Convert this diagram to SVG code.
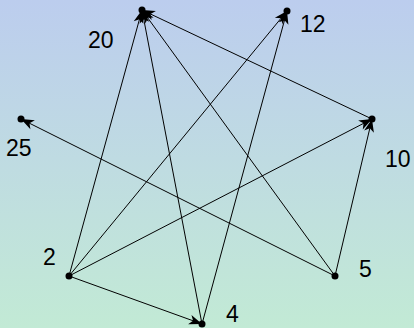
<svg xmlns="http://www.w3.org/2000/svg" width="414" height="328" viewBox="0 0 414 328">
<defs>
<linearGradient id="bg" x1="0" y1="0" x2="0" y2="1">
<stop offset="0" stop-color="#bccdee"/>
<stop offset="1" stop-color="#c2ead5"/>
</linearGradient>
<marker id="ah" viewBox="-14 -6 15 12" refX="0" refY="0" markerWidth="15" markerHeight="12" markerUnits="userSpaceOnUse" orient="auto">
<path d="M0,0 L-13,-5 L-9.5,0 L-13,5 Z" fill="#000"/>
</marker>
<style>
.e{stroke:#000;stroke-width:1;fill:none;marker-end:url(#ah)}
.d{fill:#000}
.t{font-family:"Liberation Sans",Arial,sans-serif;font-size:23px;fill:#000}
</style>
</defs>
<rect width="414" height="328" fill="url(#bg)"/>
<g id="edges">
<line class="e" x1="69" y1="276" x2="142" y2="10"/>
<line class="e" x1="69" y1="276" x2="287" y2="11"/>
<line class="e" x1="69" y1="276" x2="372" y2="119"/>
<line class="e" x1="69" y1="276" x2="202" y2="324"/>
<line class="e" x1="202" y1="324" x2="142" y2="10"/>
<line class="e" x1="202" y1="324" x2="287" y2="11"/>
<line class="e" x1="335" y1="276" x2="142" y2="10"/>
<line class="e" x1="335" y1="276" x2="21" y2="119"/>
<line class="e" x1="335" y1="276" x2="372" y2="119"/>
<line class="e" x1="372" y1="119" x2="142" y2="10"/>
</g>
<g id="n20"><circle class="d" cx="142" cy="10" r="3.5"/><text class="t" x="88" y="48">20</text></g>
<g id="n12"><circle class="d" cx="287" cy="11" r="3.5"/><text class="t" x="300" y="32">12</text></g>
<g id="n25"><circle class="d" cx="21" cy="119" r="3.5"/><text class="t" x="6" y="156">25</text></g>
<g id="n10"><circle class="d" cx="372" cy="119" r="3.5"/><text class="t" x="385" y="167">10</text></g>
<g id="n2"><circle class="d" cx="69" cy="276" r="3.5"/><text class="t" x="43" y="265">2</text></g>
<g id="n4"><circle class="d" cx="202" cy="324" r="3.5"/><text class="t" x="226" y="322">4</text></g>
<g id="n5"><circle class="d" cx="335" cy="276" r="3.5"/><text class="t" x="359" y="277">5</text></g>
</svg>
